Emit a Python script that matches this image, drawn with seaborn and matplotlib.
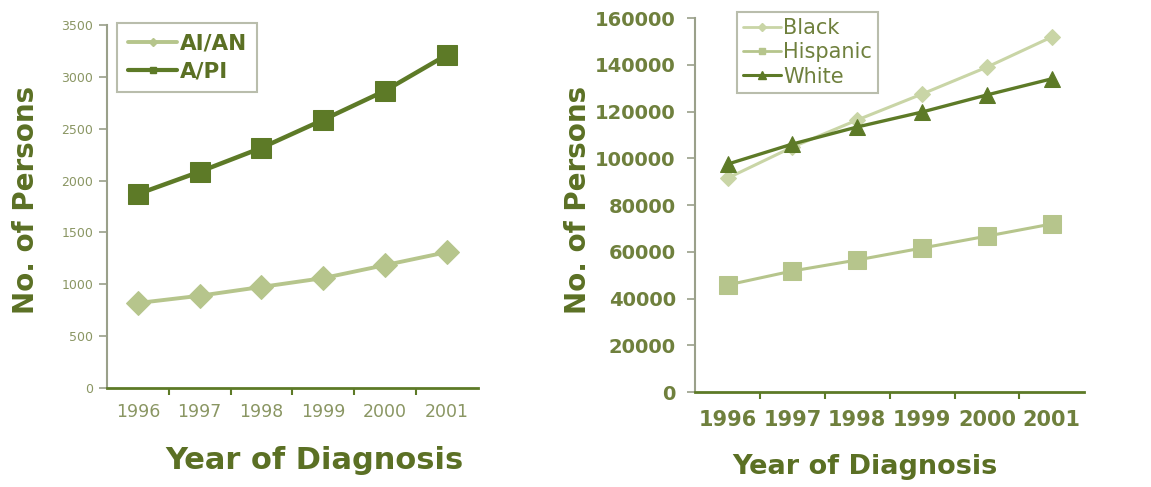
import numpy as np
import pandas as pd
import seaborn as sns
import matplotlib
matplotlib.use("Agg")
import matplotlib.pyplot as plt
from matplotlib.lines import Line2D

# data
years = [1996, 1997, 1998, 1999, 2000, 2001]
aian = [820, 890, 975, 1060, 1185, 1310]
api = [1870, 2085, 2315, 2585, 2865, 3210]
black = [91500, 104800, 116400, 127500, 139000, 151900]
hispanic = [45800, 51800, 56500, 61600, 66700, 71900]
white = [97500, 106100, 113400, 119800, 127100, 134000]

left_ticks = [0, 500, 1000, 1500, 2000, 2500, 3000, 3500]
right_ticks = [0, 20000, 40000, 60000, 80000, 100000, 120000, 140000, 160000]

dark = "#5d7a27"
light = "#b6c58c"
lighter = "#c9d5a6"
label_col = "#5b7024"
tick_col_l = "#8a9663"
tick_col_r = "#6f803d"

sns.set_style("white")
plt.rcParams["font.family"] = ["DejaVu Sans"]

fig = plt.figure(figsize=(11.51, 4.87), dpi=100)
ax1 = fig.add_axes([0.093, 0.203, 0.322, 0.746])
ax2 = fig.add_axes([0.604, 0.195, 0.338, 0.768])

# left panel
sns.lineplot(x=years, y=aian, ax=ax1, color=light, marker="D", markersize=12,
             markeredgecolor=light, linewidth=2.8)
sns.lineplot(x=years, y=api, ax=ax1, color=dark, marker="s", markersize=15,
             markeredgecolor=dark, linewidth=3.2)

# right panel
sns.lineplot(x=years, y=black, ax=ax2, color=lighter, marker="D", markersize=8,
             markeredgecolor=lighter, linewidth=2.2)
sns.lineplot(x=years, y=hispanic, ax=ax2, color=light, marker="s", markersize=13,
             markeredgecolor=light, linewidth=2.2)
sns.lineplot(x=years, y=white, ax=ax2, color=dark, marker="^", markersize=12,
             markeredgecolor=dark, linewidth=2.4)


def style_axis(ax, yticks, ytick_size, xtick_size, tick_col, ypad, xpad, weight):
    ax.set_xlim(years[0] - 0.5, years[-1] + 0.5)
    ax.set_ylim(yticks[0], yticks[-1])
    ax.set_yticks(yticks)
    ax.set_xticks(years)
    ax.set_xticks([y + 0.5 for y in years[:-1]], minor=True)
    ax.tick_params(axis="x", which="major", length=0, labelsize=xtick_size,
                   labelcolor=tick_col, pad=xpad)
    ax.tick_params(axis="x", which="minor", length=5, width=1.5, color=dark,
                   direction="out", bottom=True)
    ax.tick_params(axis="y", length=6, width=1.2, color="#9aa08a", direction="out",
                   left=True, labelsize=ytick_size, labelcolor=tick_col, pad=ypad)
    for lab in ax.get_xticklabels() + ax.get_yticklabels():
        lab.set_fontweight(weight)
    for s in ["top", "right"]:
        ax.spines[s].set_visible(False)
    ax.spines["left"].set_color("#9aa08a")
    ax.spines["left"].set_linewidth(1.5)
    ax.spines["bottom"].set_color(dark)
    ax.spines["bottom"].set_linewidth(2)


style_axis(ax1, left_ticks, 9, 12.5, tick_col_l, 4, 11, "normal")
style_axis(ax2, right_ticks, 14, 15, tick_col_r, 8, 13, "bold")

ax1.set_ylabel("No. of Persons", fontsize=20, fontweight="bold", color=label_col)
ax1.set_xlabel("Year of Diagnosis", fontsize=22, fontweight="bold", color=label_col,
               va="top")
ax1.yaxis.set_label_coords(-0.18, 0.518)
ax1.xaxis.set_label_coords(0.561, -0.16)

ax2.set_ylabel("No. of Persons", fontsize=20, fontweight="bold", color=label_col)
ax2.set_xlabel("Year of Diagnosis", fontsize=19.5, fontweight="bold", color=label_col,
               va="top")
ax2.yaxis.set_label_coords(-0.265, 0.513)
ax2.xaxis.set_label_coords(0.437, -0.165)

# legends with small markers
h1 = [Line2D([], [], color=light, marker="D", markersize=4, linewidth=2.8),
      Line2D([], [], color=dark, marker="s", markersize=5, linewidth=3)]
leg1 = ax1.legend(h1, ["AI/AN", "A/PI"], loc="upper left", bbox_to_anchor=(0.027, 1.005),
                  borderaxespad=0, fancybox=False, frameon=True, handlelength=2.3,
                  handletextpad=0.1, labelspacing=0.35, borderpad=0.5,
                  prop={"size": 15.5, "weight": "bold"})
leg1.get_frame().set_edgecolor("#a8ad98")
leg1.get_frame().set_linewidth(1.5)
for t in leg1.get_texts():
    t.set_color(label_col)

h2 = [Line2D([], [], color=lighter, marker="D", markersize=4, linewidth=2),
      Line2D([], [], color=light, marker="s", markersize=5, linewidth=2),
      Line2D([], [], color=dark, marker="^", markersize=6, linewidth=2.2)]
leg2 = ax2.legend(h2, ["Black", "Hispanic", "White"], loc="upper left",
                  bbox_to_anchor=(0.108, 1.016), borderaxespad=0, fancybox=False,
                  frameon=True, handlelength=1.8, handletextpad=0.1, labelspacing=0.2,
                  borderpad=0.3, prop={"size": 15})
leg2.get_frame().set_edgecolor("#a8ad98")
leg2.get_frame().set_linewidth(1.5)
for t in leg2.get_texts():
    t.set_color(tick_col_r)

fig.savefig("out.png", dpi=100, facecolor="white")
